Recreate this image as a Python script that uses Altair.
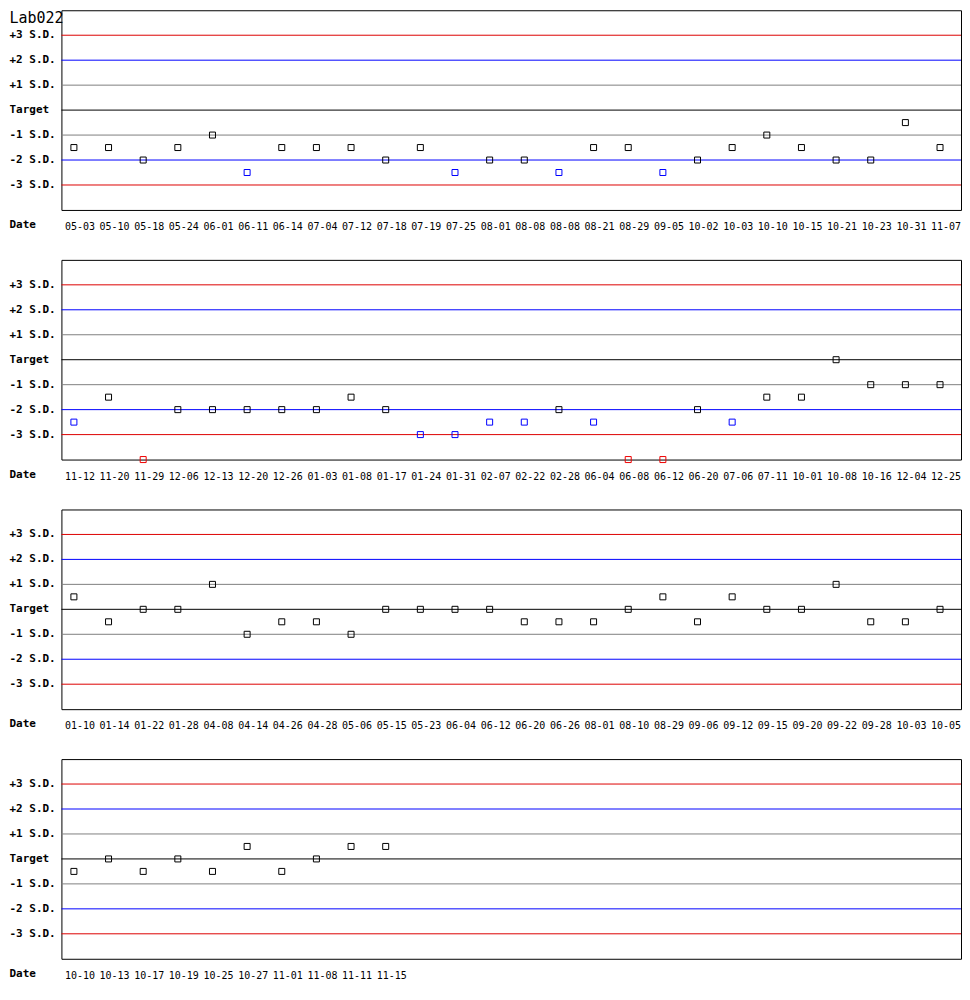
import altair as alt
import pandas as pd

# ---------------- data ----------------
title_text = "Lab022"

levels = [3, 2, 1, 0, -1, -2, -3]
level_labels = ["+3 S.D.", "+2 S.D.", "+1 S.D.", "Target", "-1 S.D.", "-2 S.D.", "-3 S.D."]
level_colors = ["#dd0000", "#0000ff", "#808080", "#000000", "#808080", "#0000ff", "#dd0000"]

dates_1 = ["05-03", "05-10", "05-18", "05-24", "06-01", "06-11", "06-14", "07-04", "07-12", "07-18",
           "07-19", "07-25", "08-01", "08-08", "08-08", "08-21", "08-29", "09-05", "10-02", "10-03",
           "10-10", "10-15", "10-21", "10-23", "10-31", "11-07"]
values_1 = [-1.5, -1.5, -2, -1.5, -1, -2.5, -1.5, -1.5, -1.5, -2,
            -1.5, -2.5, -2, -2, -2.5, -1.5, -1.5, -2.5, -2, -1.5,
            -1, -1.5, -2, -2, -0.5, -1.5]

dates_2 = ["11-12", "11-20", "11-29", "12-06", "12-13", "12-20", "12-26", "01-03", "01-08", "01-17",
           "01-24", "01-31", "02-07", "02-22", "02-28", "06-04", "06-08", "06-12", "06-20", "07-06",
           "07-11", "10-01", "10-08", "10-16", "12-04", "12-25"]
values_2 = [-2.5, -1.5, -4, -2, -2, -2, -2, -2, -1.5, -2,
            -3, -3, -2.5, -2.5, -2, -2.5, -4, -4, -2, -2.5,
            -1.5, -1.5, 0, -1, -1, -1]

dates_3 = ["01-10", "01-14", "01-22", "01-28", "04-08", "04-14", "04-26", "04-28", "05-06", "05-15",
           "05-23", "06-04", "06-12", "06-20", "06-26", "08-01", "08-10", "08-29", "09-06", "09-12",
           "09-15", "09-20", "09-22", "09-28", "10-03", "10-05"]
values_3 = [0.5, -0.5, 0, 0, 1, -1, -0.5, -0.5, -1, 0,
            0, 0, 0, -0.5, -0.5, -0.5, 0, 0.5, -0.5, 0.5,
            0, 0, 1, -0.5, -0.5, 0]

dates_4 = ["10-10", "10-13", "10-17", "10-19", "10-25", "10-27", "11-01", "11-08", "11-11", "11-15"]
values_4 = [-0.5, 0, -0.5, 0, -0.5, 0.5, -0.5, 0, 0.5, 0.5]

MONO = "DejaVu Sans Mono"
W, H = 901, 200
STEP = 34.7
FIRST = 12.5


def point_color(v):
    if abs(v) > 3:
        return "#ee0000"
    if abs(v) > 2:
        return "#0000ff"
    return "#000000"


levels_df = pd.DataFrame({"level": levels, "label": level_labels, "lcolor": level_colors})

xscale = alt.Scale(domain=[-FIRST / STEP, (W - FIRST) / STEP], nice=False, zero=False)
yscale = alt.Scale(domain=[-4, 4], nice=False, zero=False)


def panel(dates, values, with_title):
    df = pd.DataFrame({
        "idx": list(range(len(dates))),
        "date": dates,
        "value": values,
        "pcolor": [point_color(v) for v in values],
    })
    rules = alt.Chart(levels_df).mark_rule(strokeWidth=1).encode(
        y=alt.Y("level:Q", scale=yscale, axis=None),
        color=alt.Color("lcolor:N", scale=None),
    )
    ylabels = alt.Chart(levels_df).mark_text(
        align="left", baseline="middle", font=MONO, fontSize=11, fontWeight="bold", color="black"
    ).encode(
        x=alt.value(-52),
        y=alt.Y("level:Q", scale=yscale, axis=None),
        text="label:N",
    )
    date_title = alt.Chart(pd.DataFrame({"t": ["Date"]})).mark_text(
        align="left", baseline="middle", font=MONO, fontSize=11, fontWeight="bold", color="black"
    ).encode(x=alt.value(-52), y=alt.value(215), text="t:N")
    pts = alt.Chart(df).mark_square(filled=False, size=36, strokeWidth=1, opacity=1).encode(
        x=alt.X("idx:Q", scale=xscale, axis=None),
        y=alt.Y("value:Q", scale=yscale, axis=None),
        color=alt.Color("pcolor:N", scale=None),
    )
    xlabels = alt.Chart(df).mark_text(
        align="left", baseline="middle", font=MONO, fontSize=10, dx=-9, color="black"
    ).encode(
        x=alt.X("idx:Q", scale=xscale, axis=None),
        y=alt.value(217),
        text="date:N",
    )
    layers = [rules, ylabels, date_title, pts, xlabels]
    if with_title:
        ttl = alt.Chart(pd.DataFrame({"t": [title_text]})).mark_text(
            align="left", baseline="top", font=MONO, fontSize=15, color="black"
        ).encode(x=alt.value(-52), y=alt.value(1), text="t:N")
        layers.append(ttl)
    return alt.layer(*layers).properties(width=W, height=H)


chart = alt.vconcat(
    panel(dates_1, values_1, True),
    panel(dates_2, values_2, False),
    panel(dates_3, values_3, False),
    panel(dates_4, values_4, False),
    spacing=50,
    bounds="flush",
).properties(
    padding={"left": 0.5, "top": 0.5, "right": 0, "bottom": 0},
    background="white",
).configure_view(stroke="black", strokeWidth=1)

chart.save("out.html", embed_options={"renderer": "svg", "actions": False})
